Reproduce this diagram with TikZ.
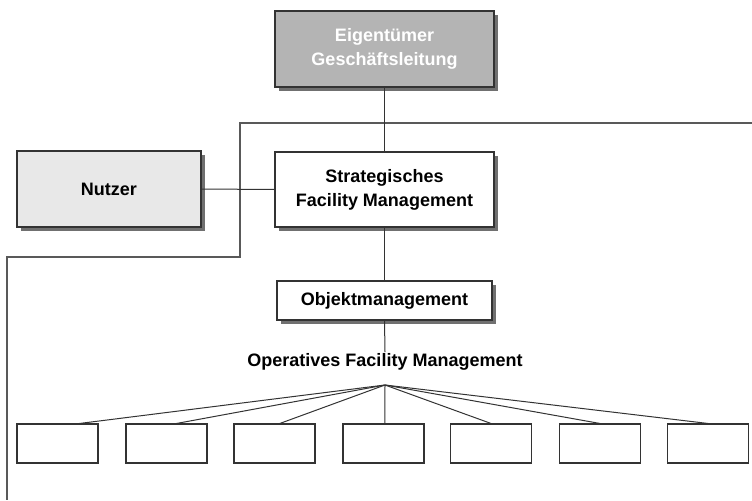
\documentclass[tikz,border=0pt]{standalone}
\usepackage{fontspec}
\setmainfont{Liberation Sans}
\usetikzlibrary{shadows}
\definecolor{linec}{HTML}{333333}
\definecolor{topfill}{HTML}{B4B4B4}
\definecolor{userfill}{HTML}{E8E8E8}
\definecolor{shadowc}{HTML}{707070}
\begin{document}
\begin{tikzpicture}[x=0.75pt,y=-0.75pt,
  box/.style={draw=linec, line width=0.8pt, fill=white, align=center,
    font=\fontsize{13.5}{18}\selectfont\bfseries, inner sep=0pt},
  shadowed/.style={general shadow={fill=shadowc, shadow xshift=3.2pt, shadow yshift=-3.2pt}},
  smallbox/.style={draw=linec, line width=0.8pt, fill=white, minimum width=60.75pt, minimum height=29.25pt, inner sep=0pt},
  conn/.style={draw=linec, line width=0.75pt}]
\useasboundingbox (0,0) rectangle (752,500);
% outer boundary line
\coordinate (r1) at (752,123);
\coordinate (r2) at (240,123);
\coordinate (r3) at (240,257);
\coordinate (r4) at (7,257);
\coordinate (r5) at (7,500);
\draw[conn, draw=black!65, line width=1.1pt] (r1) -- (r2) -- (r3) -- (r4) -- (r5);

\node[box, shadowed, fill=topfill, text=white, minimum width=164.25pt, minimum height=57pt] (top) at (384.5,49) {Eigentümer\\Geschäftsleitung};
\node[box, shadowed, fill=userfill, minimum width=138pt, minimum height=57pt] (user) at (109,189) {Nutzer};
\node[box, shadowed, minimum width=164.25pt, minimum height=56.25pt] (strat) at (384.5,189.5) {Strategisches\\Facility Management};
\node[box, shadowed, minimum width=161.25pt, minimum height=29.25pt] (obj) at (384.5,300.5) {Objektmanagement};
\node[font=\fontsize{13.5}{18}\selectfont\bfseries, inner sep=0pt] (oper) at (385,362) {Operatives Facility Management};
\coordinate (apex) at (385,385);
\coordinate (ol) at (385,352);

\draw[conn] (top.south) -- (strat.north);
\draw[conn] (user.east) -- (strat.west);
\draw[conn] (strat.south) -- (obj.north);
\draw[conn] (obj.south) -- (ol);

\foreach \i/\x in {1/57.5,2/166.5,3/274.5,4/383.5,5/491,6/600,7/708}{
  \node[smallbox] (b\i) at (\x,443.5) {};
}
\draw[conn] (apex) -- ([xshift=16.5pt]b1.north);
\draw[conn] (apex) -- ([xshift=7.5pt]b2.north);
\draw[conn] (apex) -- ([xshift=4pt]b3.north);
\draw[conn] (apex) -- ([xshift=1pt]b4.north);
\draw[conn] (apex) -- (b5.north);
\draw[conn] (apex) -- (b6.north);
\draw[conn] (apex) -- (b7.north);
\end{tikzpicture}
\end{document}
